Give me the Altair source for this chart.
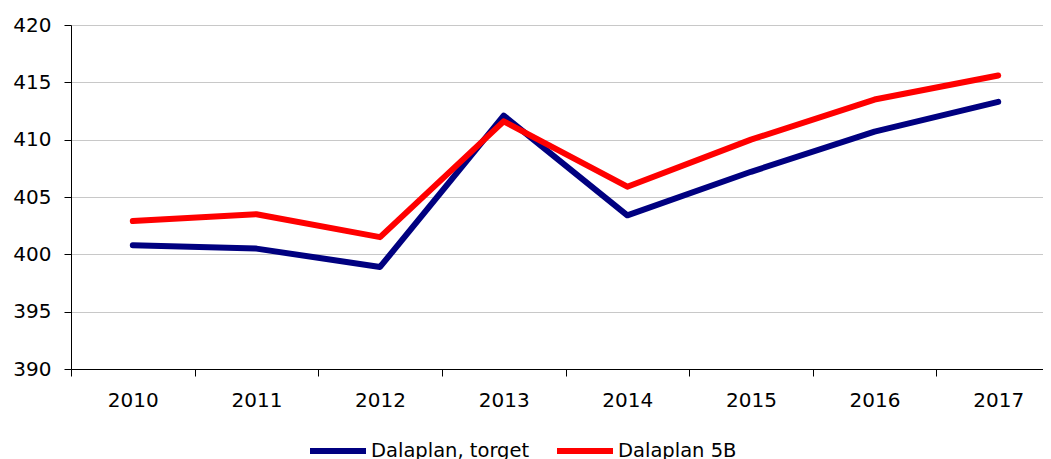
import altair as alt
import pandas as pd

years = ["2010", "2011", "2012", "2013", "2014", "2015", "2016", "2017"]
torget = [400.8, 400.5, 398.9, 412.1, 403.4, 407.2, 410.7, 413.3]
plan5b = [402.9, 403.5, 401.5, 411.6, 405.9, 410.0, 413.5, 415.6]
series = ["Dalaplan, torget", "Dalaplan 5B"]
colors = ["#000080", "#ff0000"]

rows = []
for i, y in enumerate(years):
    rows.append({"year": y, "series": series[0], "value": torget[i], "order": 0})
for i, y in enumerate(years):
    rows.append({"year": y, "series": series[1], "value": plan5b[i], "order": 1})
df = pd.DataFrame(rows)

FONT = "DejaVu Sans"

chart = alt.Chart(df).mark_line(strokeWidth=6, strokeCap="round", strokeJoin="round").encode(
    x=alt.X("year:O",
            scale=alt.Scale(type="band", paddingInner=0, paddingOuter=0, range=[0, 989]),
            bandPosition=0.5,
            axis=alt.Axis(title=None, labelAngle=0, tickBand="extent", grid=False,
                          domainColor="#000000", tickColor="#000000", tickSize=7,
                          labelFontSize=20, labelColor="#000000", labelFont=FONT,
                          labelPadding=14)),
    y=alt.Y("value:Q",
            scale=alt.Scale(domain=[390, 420], nice=False, zero=False),
            axis=alt.Axis(title=None, values=[390, 395, 400, 405, 410, 415, 420],
                          grid=True, gridColor="#c8c8c8", gridWidth=1,
                          domainColor="#000000", tickColor="#000000", tickSize=7,
                          labelFontSize=20, labelColor="#000000", labelFont=FONT,
                          labelPadding=13)),
    color=alt.Color("series:N",
                    scale=alt.Scale(domain=series, range=colors),
                    legend=alt.Legend(title=None, orient="none", legendX=236, legendY=395,
                                      direction="horizontal", symbolType="stroke",
                                      symbolSize=3136, symbolStrokeWidth=6,
                                      labelFontSize=19.5, labelFont=FONT, labelColor="#000000",
                                      labelOffset=2, columnPadding=15, padding=0)),
    order=alt.Order("order:Q"),
    detail="series:N",
).properties(
    width=972, height=344,
    autosize=alt.AutoSizeParams(type="none"),
    padding={"top": 17, "left": 63, "right": 0, "bottom": 90},
).configure_view(stroke=None).configure(background="white")

chart.save("out.html", embed_options={"renderer": "svg", "actions": False})
